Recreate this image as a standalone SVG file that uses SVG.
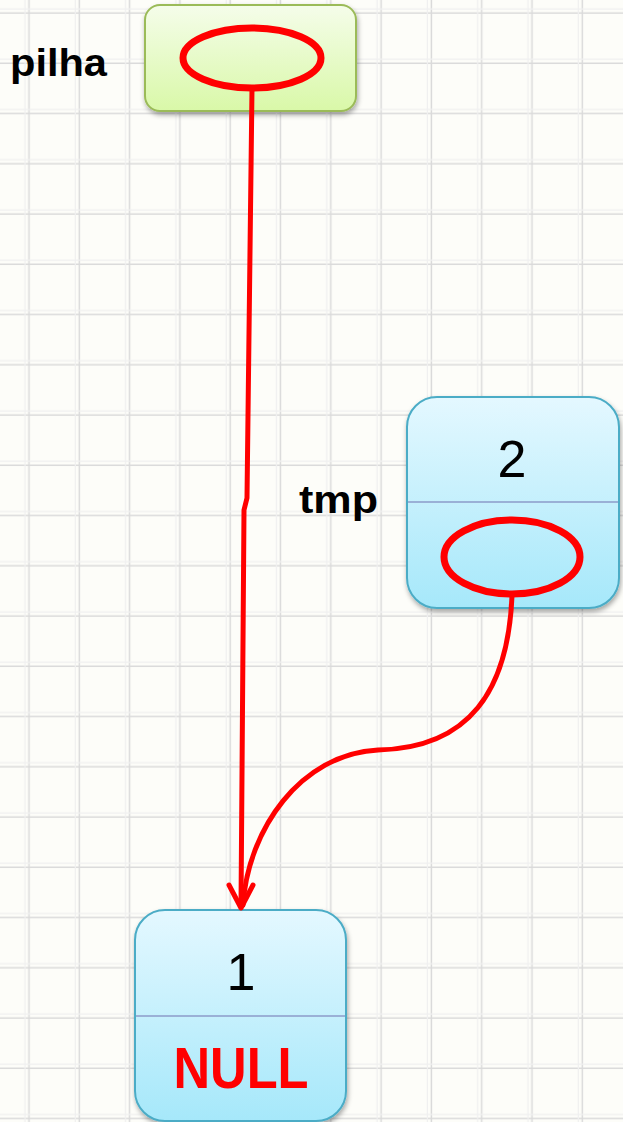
<svg xmlns="http://www.w3.org/2000/svg" width="623" height="1122" viewBox="0 0 623 1122">
<defs>
<linearGradient id="gGreen" x1="0" y1="0" x2="0" y2="1"><stop offset="0" stop-color="#f5fdea"/><stop offset="1" stop-color="#d9f8a8"/></linearGradient>
<linearGradient id="gBlue" x1="0" y1="0" x2="0" y2="1"><stop offset="0" stop-color="#e4f8ff"/><stop offset="1" stop-color="#a6e8fa"/></linearGradient>
<filter id="sh" x="-10%" y="-10%" width="125%" height="125%"><feDropShadow dx="1" dy="3" stdDeviation="2.5" flood-color="#000" flood-opacity="0.35"/></filter>
<pattern id="grid" x="0" y="0" width="50.3" height="50.25" patternUnits="userSpaceOnUse">
<path d="M29,0V50.25M0,13H50.3" stroke="#dadada" stroke-width="1.5" fill="none"/>
<path d="M25,0V50.25M0,9H50.3" stroke="#f0f0f0" stroke-width="1.2" fill="none"/>
</pattern>
</defs>
<style>
.lbl{font-family:"Liberation Sans",Arial,sans-serif;font-weight:bold;fill:#000}
.num{font-family:"Liberation Sans",Arial,sans-serif;font-size:52px;fill:#000;text-anchor:middle}
.null{font-family:"Liberation Sans",Arial,sans-serif;font-weight:bold;font-size:57px;fill:#ff0000;text-anchor:middle}
.node{fill:url(#gBlue);stroke:#4bacc6;stroke-width:2;filter:url(#sh)}
.div{stroke:#9ab0d6;stroke-width:2}
.ptr{fill:none;stroke:#ff0000;stroke-width:7}
.wire{fill:none;stroke:#ff0000;stroke-width:5;stroke-linecap:round;stroke-linejoin:round}
</style>
<rect width="623" height="1122" fill="#fdfdf9"/>
<rect width="623" height="1122" fill="url(#grid)"/>

<g id="pilha">
<rect x="145" y="5" width="211" height="106" rx="15" fill="url(#gGreen)" stroke="#9bbb59" stroke-width="2" filter="url(#sh)"/>
<text class="lbl" x="10" y="76" font-size="38" textLength="97" lengthAdjust="spacingAndGlyphs">pilha</text>
<ellipse class="ptr" cx="252" cy="58" rx="69" ry="30"/>
</g>

<g id="node2">
<rect class="node" x="407" y="397" width="212" height="211" rx="30"/>
<line class="div" x1="408" y1="502" x2="618" y2="502"/>
<text class="num" x="512" y="477">2</text>
<text class="lbl" x="299" y="513" font-size="38" textLength="79" lengthAdjust="spacingAndGlyphs">tmp</text>
<ellipse class="ptr" cx="512" cy="557" rx="68" ry="37"/>
</g>

<g id="node1">
<rect class="node" x="135" y="910" width="211" height="211" rx="30"/>
<line class="div" x1="136" y1="1016" x2="345" y2="1016"/>
<text class="num" x="241" y="990">1</text>
<text class="null" x="241" y="1088" textLength="135" lengthAdjust="spacingAndGlyphs">NULL</text>
</g>

<g id="connectors">
<path class="wire" d="M252,88 L247,498 L244,510 L241,906"/>
<path class="wire" d="M512,596 C508,690 470,748 378,750 C300,754 248,830 243,905"/>
<path class="wire" d="M229,885 L241,908 L253,885"/>
</g>
</svg>
